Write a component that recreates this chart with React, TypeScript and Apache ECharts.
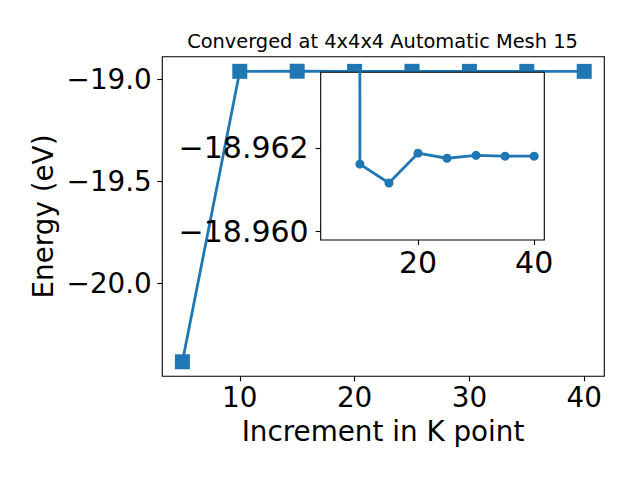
import React, { useEffect, useRef } from "react";
import * as echarts from "echarts";

// ---- data ----
const kPoints = [5, 10, 15, 20, 25, 30, 35, 40];
const energies = [-20.384, -18.96161, -18.96116, -18.96187, -18.96175, -18.96182, -18.9618, -18.9618];
const mainXTicks = [10, 20, 30, 40];
const mainYTicks = [-20.0, -19.5, -19.0];
const insetXTicks = [20, 40];
const insetYTicks = [-18.962, -18.96];
const insetYRange = [-18.9638, -18.9598];
const titleText = "Converged at 4x4x4 Automatic Mesh 15";
const xLabelText = "Increment in K point";
const yLabelText = "Energy (eV)";

const FONT = '"DejaVu Sans", sans-serif';
const BLUE = "#1f77b4";

function fmt(v: number, d: number): string {
  const s = Math.abs(v).toFixed(d);
  return (v < -1e-12 ? "\u2212" : "") + s;
}

function padRange(vals: number[], frac: number): [number, number] {
  const lo = Math.min(...vals);
  const hi = Math.max(...vals);
  const r = hi - lo;
  return [lo - r * frac, hi + r * frac];
}

export default function App() {
  const ref = useRef<HTMLDivElement>(null);

  useEffect(() => {
    if (!ref.current) return;
    const chart = echarts.init(ref.current, undefined, { renderer: "svg" });
    const [xMin, xMax] = padRange(kPoints, 0.05);
    const [yMin, yMax] = padRange(energies, 0.05);
    const pts = kPoints.map((x, i) => [x, energies[i]]);

    const tickStyle = { color: "#000", width: 1.1 };

    const option: any = {
      animation: false,
      backgroundColor: "#fff",
      grid: [
        {
          left: 162.3,
          top: 56.7,
          width: 442,
          height: 319.6,
          show: true,
          borderColor: "#000",
          borderWidth: 1.1,
          backgroundColor: "transparent",
          containLabel: false,
          outerBoundsMode: "none",
          z: 1,
        },
        {
          left: 320.7,
          top: 72.3,
          width: 223.6,
          height: 167.7,
          show: true,
          borderColor: "#000",
          borderWidth: 1.1,
          backgroundColor: "#fff",
          containLabel: false,
          outerBoundsMode: "none",
          z: 10,
        },
      ],
      xAxis: [
        {
          type: "value",
          gridIndex: 0,
          min: xMin,
          max: xMax,
          z: 1,
          axisLine: { show: false },
          splitLine: { show: false },
          axisTick: { show: true, length: 5, lineStyle: tickStyle, customValues: mainXTicks },
          axisLabel: {
            customValues: mainXTicks,
            formatter: (v: number) => fmt(v, 0),
            fontFamily: FONT,
            fontSize: 27.8,
            color: "#000",
            margin: 7,
          },
        },
        {
          type: "value",
          gridIndex: 1,
          min: xMin,
          max: xMax,
          z: 11,
          axisLine: { show: false },
          splitLine: { show: false },
          axisTick: { show: true, length: 5, lineStyle: tickStyle, customValues: insetXTicks },
          axisLabel: {
            customValues: insetXTicks,
            formatter: (v: number) => fmt(v, 0),
            fontFamily: FONT,
            fontSize: 30,
            color: "#000",
            margin: 7.5,
          },
        },
      ],
      yAxis: [
        {
          type: "value",
          gridIndex: 0,
          min: yMin,
          max: yMax,
          z: 1,
          axisLine: { show: false },
          splitLine: { show: false },
          axisTick: { show: true, length: 5, lineStyle: tickStyle, customValues: mainYTicks },
          axisLabel: {
            customValues: mainYTicks,
            formatter: (v: number) => fmt(v, 1),
            fontFamily: FONT,
            fontSize: 27.8,
            color: "#000",
            margin: 10.5,
          },
        },
        {
          type: "value",
          gridIndex: 1,
          inverse: true,
          min: insetYRange[0],
          max: insetYRange[1],
          z: 11,
          axisLine: { show: false },
          splitLine: { show: false },
          axisTick: { show: true, length: 5, lineStyle: tickStyle, customValues: insetYTicks },
          axisLabel: {
            customValues: insetYTicks,
            formatter: (v: number) => fmt(v, 3),
            fontFamily: FONT,
            fontSize: 30,
            color: "#000",
            margin: 12,
          },
        },
      ],
      series: [
        {
          type: "line",
          xAxisIndex: 0,
          yAxisIndex: 0,
          data: pts,
          symbol: "rect",
          symbolSize: 15,
          lineStyle: { color: BLUE, width: 2.8 },
          itemStyle: { color: BLUE, borderWidth: 0 },
          z: 2,
          silent: true,
        },
        {
          type: "line",
          xAxisIndex: 1,
          yAxisIndex: 1,
          data: pts,
          symbol: "circle",
          symbolSize: 9,
          clip: true,
          lineStyle: { color: BLUE, width: 2.8 },
          itemStyle: { color: BLUE, borderWidth: 0 },
          z: 12,
          silent: true,
        },
      ],
      graphic: [
        {
          type: "text",
          x: 382.5,
          y: 41.5,
          z: 20,
          style: {
            text: titleText,
            font: `19.4px ${FONT}`,
            fill: "#000",
            align: "center",
            verticalAlign: "middle",
            textAlign: "center",
            textVerticalAlign: "middle",
          },
        },
        {
          type: "text",
          x: 383,
          y: 431.5,
          z: 20,
          style: {
            text: xLabelText,
            font: `27.8px ${FONT}`,
            fill: "#000",
            align: "center",
            verticalAlign: "middle",
            textAlign: "center",
            textVerticalAlign: "middle",
          },
        },
        {
          type: "text",
          x: 43.5,
          y: 216.5,
          rotation: Math.PI / 2,
          z: 20,
          style: {
            text: yLabelText,
            font: `27.8px ${FONT}`,
            fill: "#000",
            align: "center",
            verticalAlign: "middle",
            textAlign: "center",
            textVerticalAlign: "middle",
          },
        },
      ],
    };

    chart.setOption(option);
    return () => {
      chart.dispose();
    };
  }, []);

  return (
    <div
      ref={ref}
      style={{ position: "fixed", left: 0, top: 0, width: 640, height: 480, background: "#fff" }}
    />
  );
}
